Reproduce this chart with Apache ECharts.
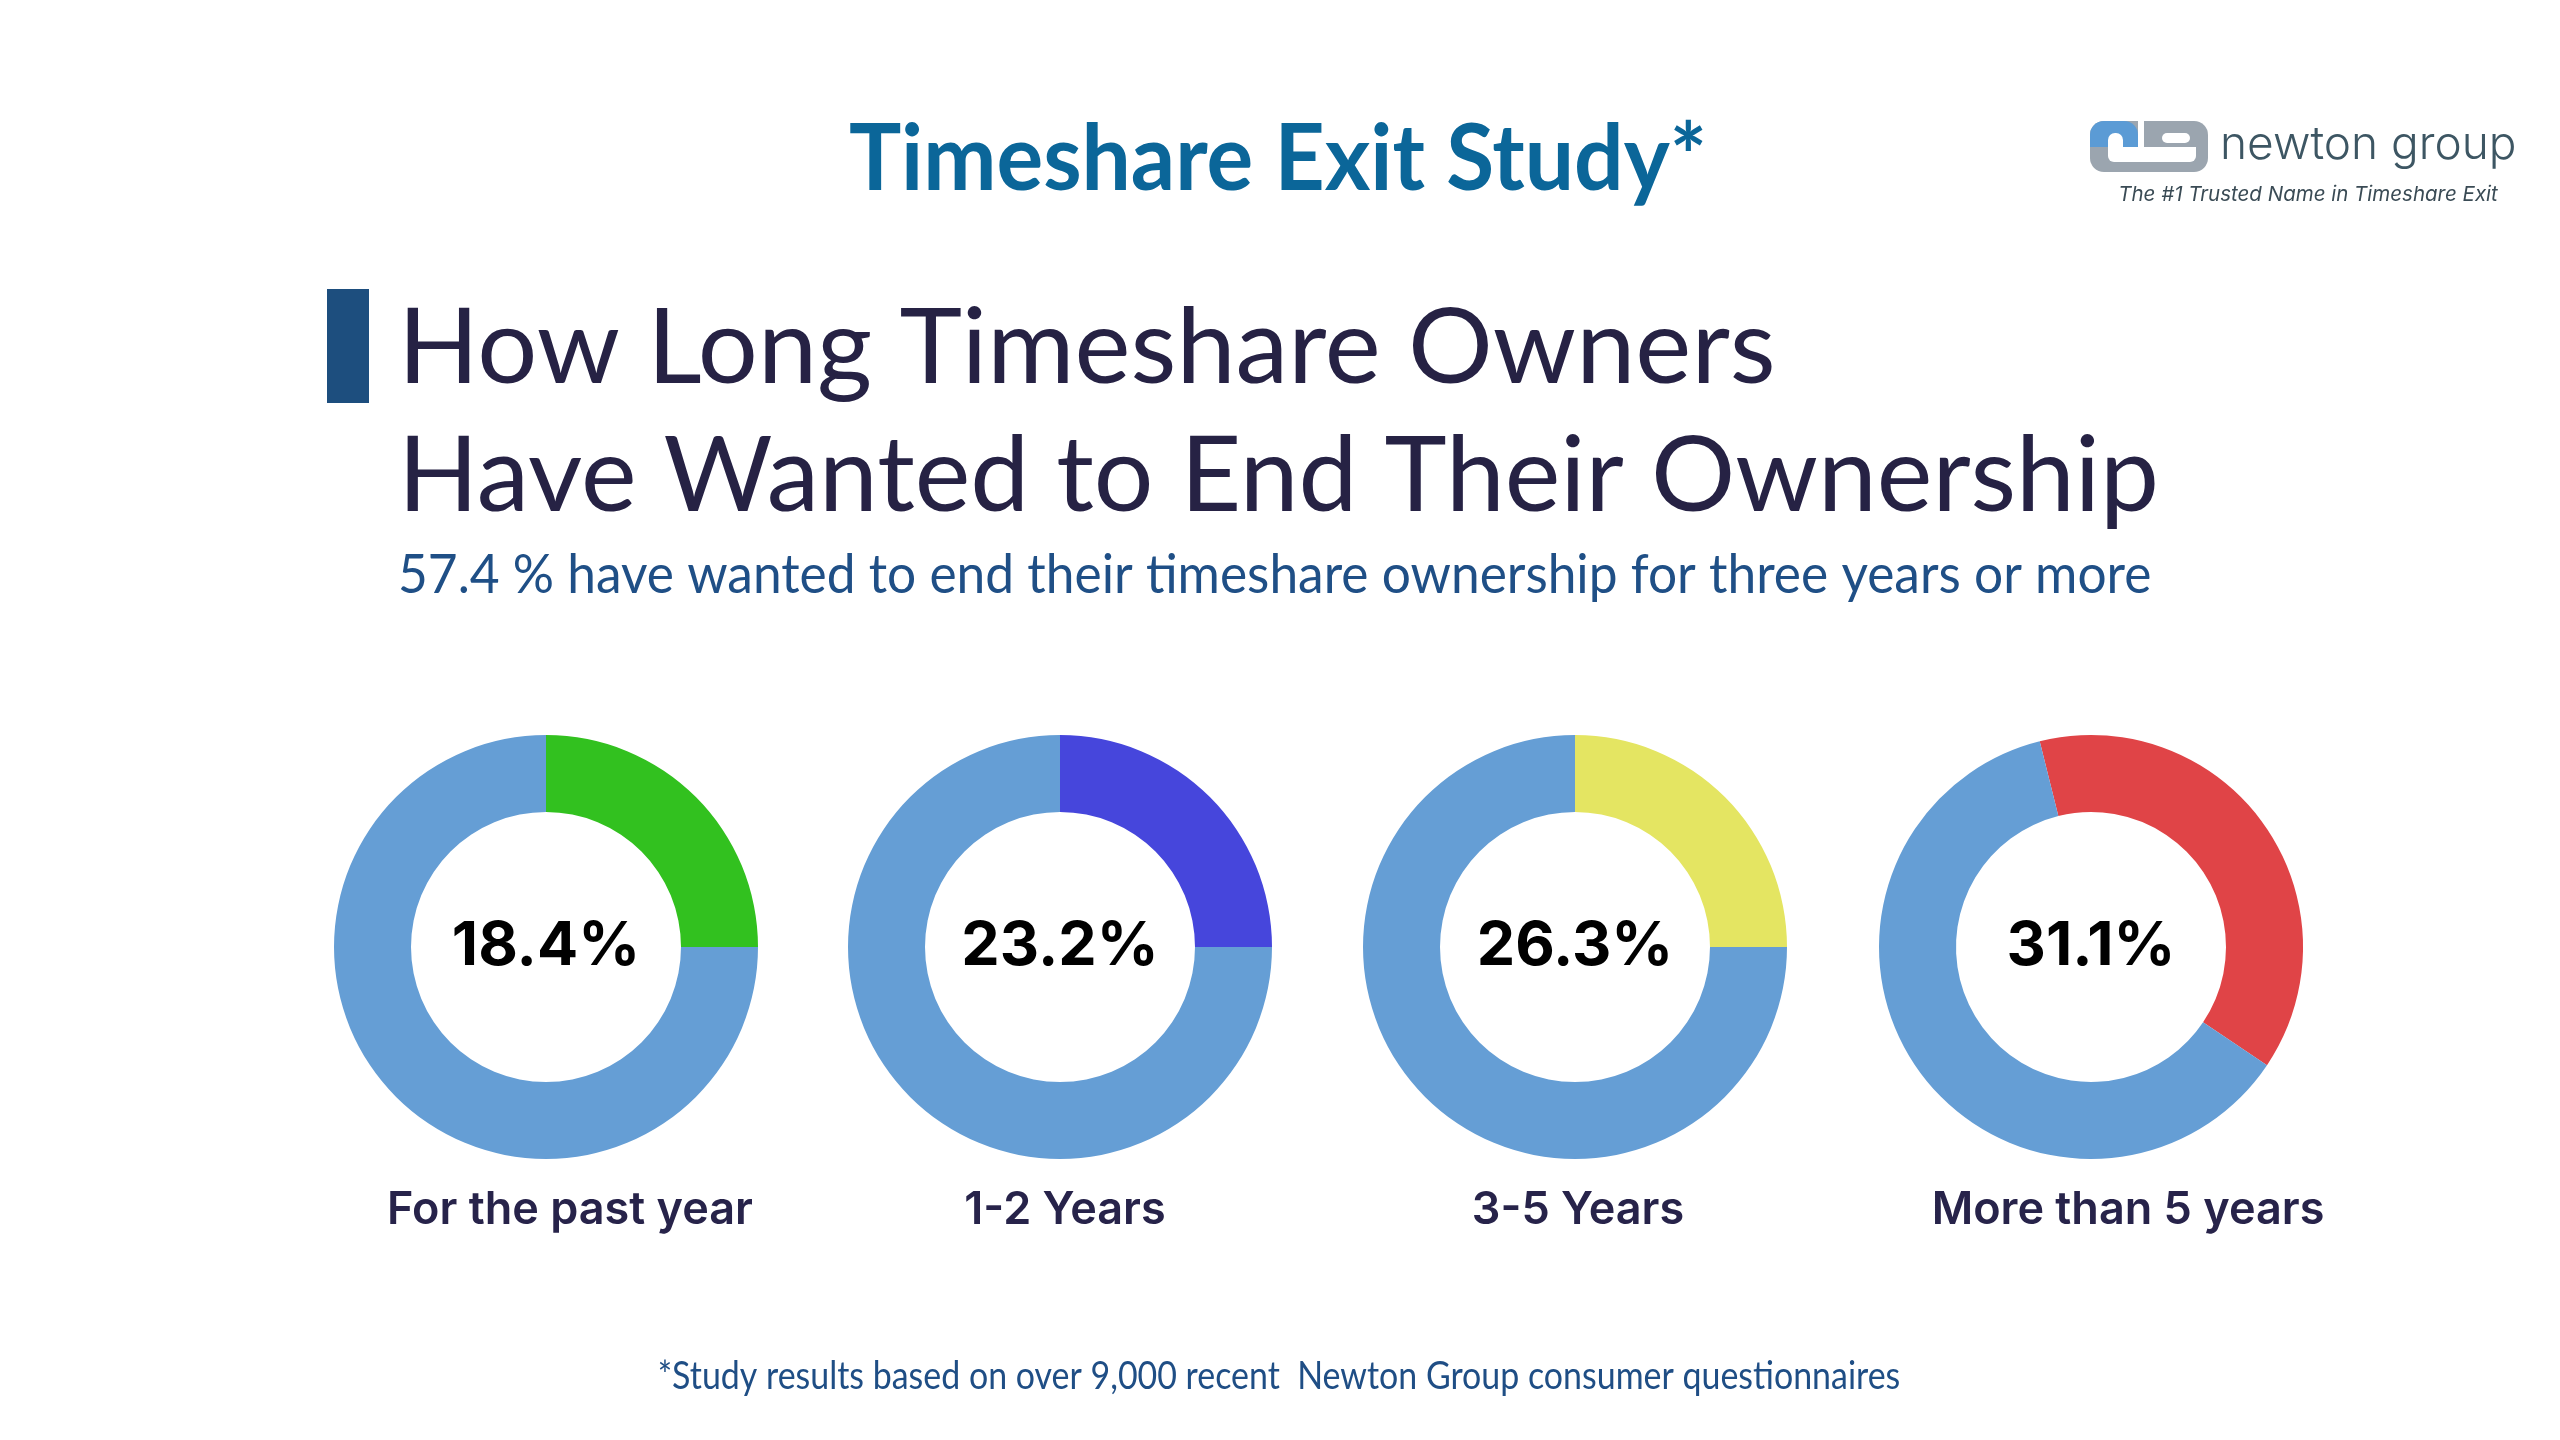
<!DOCTYPE html>
<html>
<head>
<meta charset="utf-8">
<title>Timeshare Exit Study</title>
<script src="https://cdn.jsdelivr.net/npm/echarts@6/dist/echarts.min.js"></script>
<style>
  html, body { margin: 0; padding: 0; background: #ffffff; }
  #chart { width: 2560px; height: 1440px; }
</style>
</head>
<body>
<div id="chart"></div>
<script>
  // values
  const categories = ['For the past year', '1-2 Years', '3-5 Years', 'More than 5 years']
  const shownPct = [18.4, 23.2, 26.3, 31.1]
  // part of each ring that is drawn in colour (as drawn, not as labelled)
  const arcShare = [25, 25, 25, 38.3]
  const arcStart = [90, 90, 90, 104]
  const sliceColors = ['#32c11f', '#4646dc', '#e4e562', '#e04447']
  const restColor = '#659ed5'

  const centersX = [546, 1060, 1575, 2091]
  const labelX = [570, 1065, 1578, 2128]
  const centerY = 947

  const chart = echarts.init(document.getElementById('chart'))

  const series = categories.map(function (name, i) {
    return {
      name: name,
      type: 'pie',
      center: [centersX[i], centerY],
      radius: [135, 212],
      startAngle: arcStart[i],
      clockwise: true,
      silent: true,
      avoidLabelOverlap: false,
      labelLine: { show: false },
      emphasis: { disabled: true },
      data: [
        {
          value: arcShare[i], name: name,
          itemStyle: { color: sliceColors[i] },
          label: {
            show: true, position: 'center',
            formatter: shownPct[i].toFixed(1) + '%',
            fontFamily: 'Inter', fontWeight: 700, fontSize: 61,
            color: '#000000', letterSpacing: -3
          }
        },
        {
          value: 100 - arcShare[i], name: 'rest',
          itemStyle: { color: restColor },
          label: { show: false }
        }
      ]
    }
  })

  // category names under the rings
  const catTexts = categories.map(function (name, i) {
    return {
      type: 'text', x: labelX[i], y: 1210, silent: true,
      style: {
        text: name, fill: '#27234a', font: '600 45px Inter',
        textAlign: 'center', textVerticalAlign: 'middle'
      }
    }
  })

  const option = {
    backgroundColor: '#ffffff',
    animation: false,
    series: series,
    graphic: catTexts.concat([
      {
        type: 'text', x: 1278, y: 160, scaleX: 0.95, silent: true,
        style: {
          text: 'Timeshare Exit Study*', fill: '#0b6699',
          font: '700 92px Lato', textAlign: 'center', textVerticalAlign: 'middle'
        }
      },
      {
        type: 'rect', silent: true,
        shape: { x: 327, y: 289, width: 42, height: 114 },
        style: { fill: '#1d4e7e' }
      },
      {
        type: 'text', x: 398, y: 349, scaleX: 1.02, silent: true,
        style: {
          text: 'How Long Timeshare Owners', fill: '#262244',
          font: '400 104px Lato', textAlign: 'left', textVerticalAlign: 'middle'
        }
      },
      {
        type: 'text', x: 398, y: 477, scaleX: 1.013, silent: true,
        style: {
          text: 'Have Wanted to End Their Ownership', fill: '#262244',
          font: '400 104px Lato', textAlign: 'left', textVerticalAlign: 'middle'
        }
      },
      {
        type: 'text', x: 398, y: 576, scaleX: 0.953, silent: true,
        style: {
          text: '57.4 % have wanted to end their timeshare ownership for three years or more',
          fill: '#1f4f86', font: '400 54px Lato', textAlign: 'left', textVerticalAlign: 'middle'
        }
      },
      {
        type: 'text', x: 1279, y: 1376, scaleX: 0.87, silent: true,
        style: {
          text: '*Study results based on over 9,000 recent  Newton Group consumer questionnaires',
          fill: '#1f4e85', font: '400 39px Lato', textAlign: 'center', textVerticalAlign: 'middle'
        }
      },
      // newton group logo
      {
        type: 'group', silent: true,
        children: [
          { type: 'rect', shape: { x: 2090, y: 121, width: 118, height: 51, r: 14 }, style: { fill: '#9ba5af' } },
          { type: 'rect', shape: { x: 2090, y: 121, width: 48, height: 26, r: [14, 14, 0, 0] }, style: { fill: '#5b9bd5' } },
          { type: 'rect', shape: { x: 2138, y: 119, width: 6, height: 28 }, style: { fill: '#ffffff' } },
          { type: 'rect', shape: { x: 2108, y: 147, width: 88, height: 15, r: [0, 0, 6, 6] }, style: { fill: '#ffffff' } },
          { type: 'rect', shape: { x: 2108, y: 133, width: 15, height: 14, r: [7, 7, 0, 0] }, style: { fill: '#ffffff' } },
          { type: 'rect', shape: { x: 2162, y: 133, width: 28, height: 10, r: 5 }, style: { fill: '#ffffff' } }
        ]
      },
      {
        type: 'text', x: 2220, y: 145, silent: true,
        style: {
          text: 'newton group', fill: '#3d5663', font: '300 46px Inter',
          textAlign: 'left', textVerticalAlign: 'middle'
        }
      },
      {
        type: 'text', x: 2308, y: 195, silent: true,
        style: {
          text: 'The #1 Trusted Name in Timeshare Exit', fill: '#3a4b55', font: 'italic 400 20.5px Inter',
          textAlign: 'center', textVerticalAlign: 'middle'
        }
      }
    ])
  }

  chart.setOption(option)
</script>
</body>
</html>
